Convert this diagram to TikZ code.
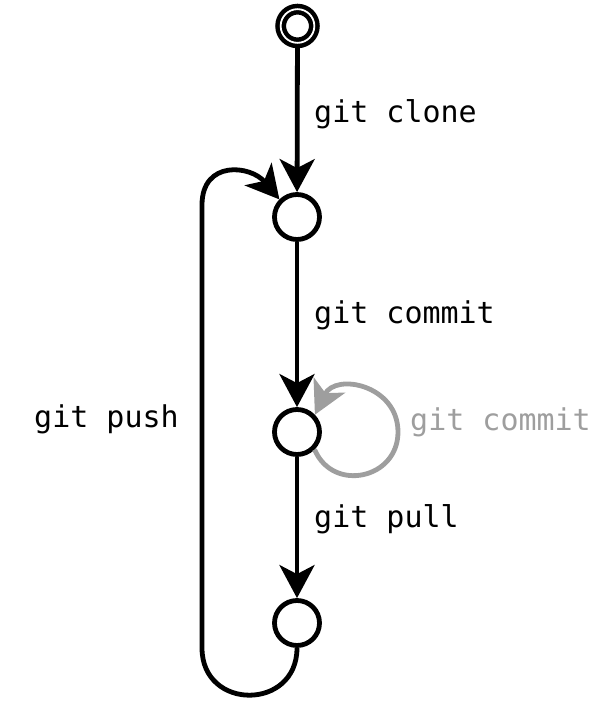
\documentclass[tikz,border=0pt]{standalone}
\usepackage{fontspec}
\setmonofont{DejaVu Sans Mono}
\usetikzlibrary{arrows.meta}

\begin{document}
\begin{tikzpicture}[
        x=1pt, y=1pt,
        state/.style={circle, draw, line width=4.8pt, minimum size=45pt, inner sep=0pt},
        start/.style={circle, draw, line width=4.5pt, double, double distance=1.8pt,
            minimum size=33.7pt, inner sep=0pt, outer sep=5.3pt},
        cmd/.style={anchor=base west, inner sep=0pt, font=\ttfamily\fontsize{30}{36}\selectfont},
        flow/.style={line width=4.8pt, -{Stealth[length=33pt, width=35pt, inset=9pt]}}]

        \useasboundingbox (0,0) rectangle (606,-704);

        \node[start] (init) at (297.5,-26) {};
        \node[state] (cloned) at (297,-217) {};
        \node[state] (committed) at (297,-432) {};
        \node[state] (pulled) at (297,-623) {};

        \node[cmd] (clone) at (314,-122) {git clone};
        \node[cmd] (commit) at (314,-323) {git commit};
        \node[cmd] (pull) at (314,-527) {git pull};
        \node[cmd] (push) at (34,-427) {git push};
        \node[cmd, text=black!38] (amend) at (410,-430) {git commit};

        \coordinate (pushlow) at (202,-648);
        \coordinate (pushtop) at (202,-205);
        \coordinate (amendright) at (398,-432);

        \draw[flow] (init) -- (cloned);
        \draw[flow] (cloned) -- (committed);
        \draw[flow] (committed) -- (pulled);
        \draw[flow] (pulled.south) to[out=-90, in=-90, distance=63pt] (pushlow)
            -- (pushtop) to[out=90, in=130, distance=45pt] (cloned.135);
        \draw[flow, black!38] (committed.-45) to[out=-67, in=-90, distance=47pt] (amendright)
            to[out=90, in=64, distance=47pt] (committed.44);

    \end{tikzpicture}
\end{document}
